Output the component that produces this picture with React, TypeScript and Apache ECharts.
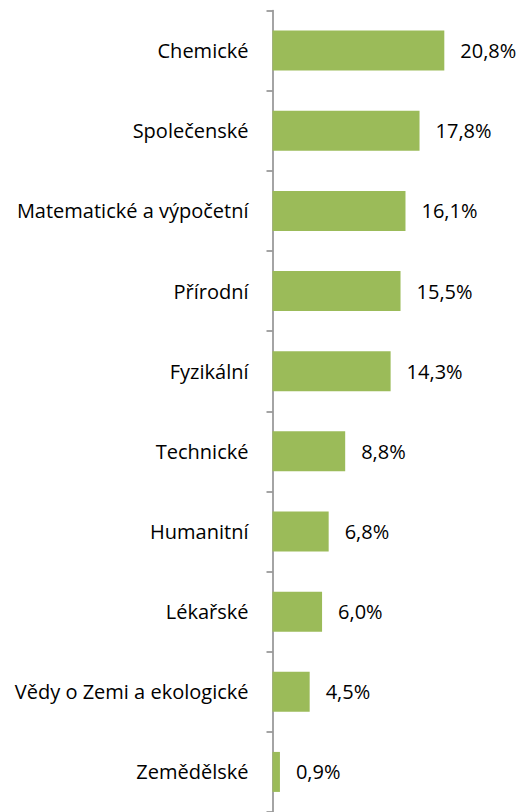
import React, { useEffect, useRef } from "react";
import * as echarts from "echarts";

const categories = [
  "Chemické",
  "Společenské",
  "Matematické a výpočetní",
  "Přírodní",
  "Fyzikální",
  "Technické",
  "Humanitní",
  "Lékařské",
  "Vědy o Zemi a ekologické",
  "Zemědělské",
];
const values = [20.8, 17.8, 16.1, 15.5, 14.3, 8.8, 6.8, 6.0, 4.5, 0.9];

export default function App() {
  const ref = useRef<HTMLDivElement>(null);
  useEffect(() => {
    if (!ref.current) return;
    const chart = echarts.init(ref.current, undefined, { renderer: "svg" });
    chart.setOption({
      animation: false,
      grid: { left: 272.5, top: 10.5, width: 206.5, height: 807 },
      xAxis: {
        type: "value",
        min: 0,
        max: 25,
        show: false,
      },
      yAxis: {
        type: "category",
        inverse: true,
        data: categories,
        axisLine: { show: true, lineStyle: { color: "#868686", width: 1.5 } },
        axisTick: { show: true, length: 6, lineStyle: { color: "#868686", width: 1.5 } },
        axisLabel: {
          color: "#000",
          fontSize: 20,
          fontFamily: "Open Sans",
          margin: 24,
        },
        splitLine: { show: false },
      },
      series: [
        {
          type: "bar",
          data: values,
          barWidth: 40,
          itemStyle: { color: "#9BBB59" },
          label: {
            show: true,
            position: "right",
            distance: 16,
            color: "#000",
            fontSize: 20,
            fontFamily: "Open Sans",
            formatter: (p: any) => p.value.toFixed(1).replace(".", ",") + "%",
          },
        },
      ],
    });
    return () => chart.dispose();
  }, []);
  return (
    <div
      ref={ref}
      style={{ position: "fixed", left: 0, top: 0, width: 527, height: 812, background: "#fff" }}
    />
  );
}
